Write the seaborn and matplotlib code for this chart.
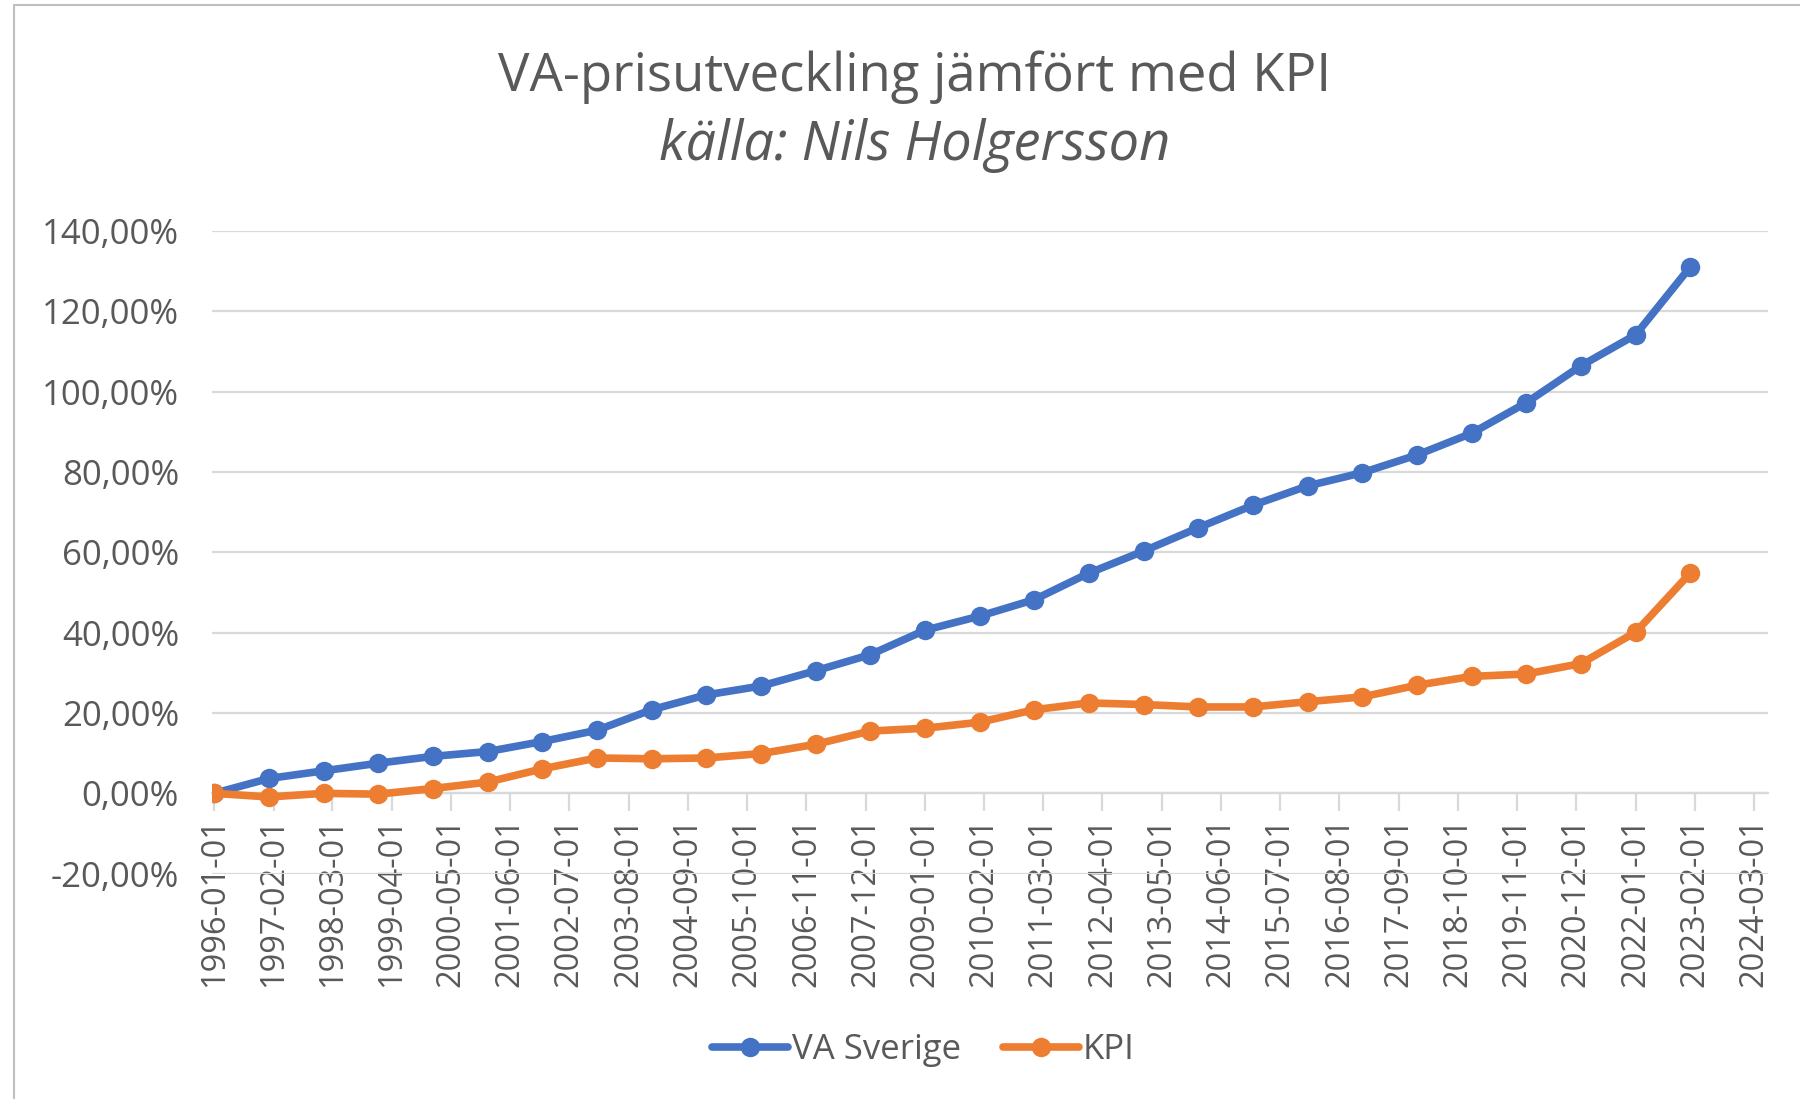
import numpy as np
import pandas as pd
import seaborn as sns
import matplotlib.pyplot as plt
import matplotlib.dates as mdates
from matplotlib.ticker import FuncFormatter, MultipleLocator

years = list(range(1996, 2024))
va_sverige = [0.0, 3.7, 5.6, 7.5, 9.2, 10.4, 12.9, 15.7, 20.8, 24.5, 26.7, 30.5, 34.5, 40.6,
              44.1, 48.2, 54.8, 60.3, 66.1, 71.7, 76.5, 79.8, 84.2, 89.6, 97.2, 106.4, 114.1, 131.0]
kpi = [0.0, -0.9, 0.0, -0.2, 1.2, 2.8, 6.1, 8.8, 8.6, 8.8, 9.9, 12.2, 15.5, 16.2,
       17.7, 20.8, 22.5, 22.1, 21.5, 21.5, 22.8, 24.0, 26.9, 29.1, 29.7, 32.3, 40.1, 54.8]
series_names = ['VA Sverige', 'KPI']
colors = ['#4472C4', '#ED7D31']

dates = pd.to_datetime([f'{y}-01-01' for y in years])
df = pd.concat([
    pd.DataFrame({'datum': dates, 'värde': va_sverige, 'serie': series_names[0]}),
    pd.DataFrame({'datum': dates, 'värde': kpi, 'serie': series_names[1]}),
])

sns.set_theme(style='white')
plt.rcParams['font.family'] = ['Open Sans', 'DejaVu Sans']
txt = '#595959'
grid = '#D9D9D9'

fig = plt.figure(figsize=(18, 10.99), dpi=100)
ax = fig.add_axes([0.118, 0.205, 0.864, 0.585])

sns.lineplot(data=df, x='datum', y='värde', hue='serie', palette=colors,
             style='serie', markers=['o', 'o'], dashes=False,
             linewidth=5.5, markersize=14, markeredgewidth=0, ax=ax, zorder=3)

ax.set_ylim(-20, 140)
ax.yaxis.set_major_locator(MultipleLocator(20))
ax.yaxis.set_major_formatter(FuncFormatter(lambda v, p: f'{v:.2f}%'.replace('.', ',')))
ax.grid(axis='y', color=grid, linewidth=1.6, zorder=0)
ax.grid(axis='x', visible=False)

ticks = pd.date_range('1996-01-01', '2024-03-01', freq='13MS')
ax.set_xticks(ticks)
ax.xaxis.set_major_formatter(mdates.DateFormatter('%Y-%m-%d'))
ax.set_xlim(pd.Timestamp('1995-12-20'), pd.Timestamp('2024-06-01'))

for s in ['left', 'right', 'top']:
    ax.spines[s].set_visible(False)
ax.spines['bottom'].set_position(('data', 0))
ax.spines['bottom'].set_color(grid)
ax.spines['bottom'].set_linewidth(1.6)

ax.tick_params(axis='x', direction='out', length=13, width=1.6, color=grid,
               labelsize=23.5, labelcolor=txt, rotation=90, pad=4, bottom=True)
ax.tick_params(axis='y', length=0, labelsize=25, labelcolor=txt, pad=24)
ax.set_xlabel('')
ax.set_ylabel('')

leg = ax.legend(loc='lower center', bbox_to_anchor=(0.457, -0.35), ncol=2, frameon=False,
                fontsize=25, handlelength=2.2, handletextpad=0.1, columnspacing=1.2)
for t in leg.get_texts():
    t.set_color(txt)

fig.text(0.508, 0.93, 'VA-prisutveckling jämfört med KPI', ha='center', va='center',
         fontsize=38, color=txt)
fig.text(0.508, 0.868, 'källa: Nils Holgersson', ha='center', va='center',
         fontsize=39, color=txt, style='italic')

fig.add_artist(plt.Line2D([0.008, 0.008], [0, 0.995], transform=fig.transFigure,
                          color='#BFBFBF', linewidth=1.5))
fig.add_artist(plt.Line2D([0.008, 1], [0.995, 0.995], transform=fig.transFigure,
                          color='#BFBFBF', linewidth=1.5))

fig.savefig('out.png', dpi=100)
